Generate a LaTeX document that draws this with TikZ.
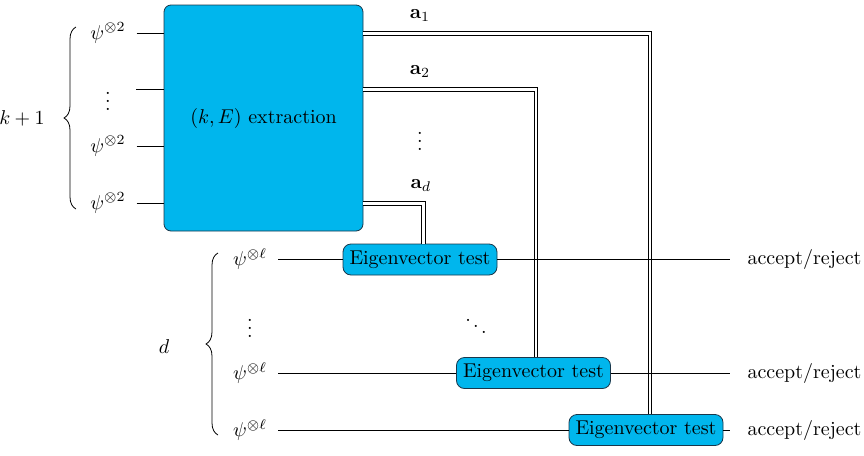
\documentclass[tikz,border=0pt]{standalone}
\usetikzlibrary{decorations.pathreplacing}
\definecolor{boxcyan}{RGB}{0,182,237}
\definecolor{boxedge}{RGB}{25,55,75}
\begin{document}
\begin{tikzpicture}[x=0.5pt,y=-0.5pt,
  wire/.style={line width=0.4pt, shorten <=2pt},
  outwire/.style={line width=0.4pt, shorten >=5pt},
  dbl/.style={double, double distance=1.4pt, line width=0.4pt},
  testbox/.style={draw=boxedge, fill=boxcyan, rounded corners=4pt, minimum width=77pt, minimum height=15.5pt, inner sep=2pt},
  bigbox/.style={draw=boxedge, fill=boxcyan, rounded corners=3.5pt, minimum width=99.5pt, minimum height=113pt},
  dots/.style={inner sep=0pt},
  brc/.style={decorate, decoration={brace, amplitude=6pt}}]
\useasboundingbox (0,0) rectangle (864,456);

% extraction box
\node[bigbox] (ext) at (263.5,118) {$(k,E)$ extraction};

% inputs top
\node (p1) at (108,33) {$\psi^{\otimes 2}$};
\node[dots] (pv) at (108,95) {$\vdots$};
\node (p3) at (108,146) {$\psi^{\otimes 2}$};
\node (p4) at (108,203) {$\psi^{\otimes 2}$};
\coordinate (c2) at (136,89);
\draw[wire] (p1.east) -- (p1.east -| ext.west);
\draw[line width=0.4pt] (c2) -- (c2 -| ext.west);
\draw[wire] (p3.east) -- (p3.east -| ext.west);
\draw[wire] (p4.east) -- (p4.east -| ext.west);
\draw[brc] (76,209) -- (76,27);
\node (kp) at (22,118) {$k+1$};

% output labels
\node (a1) at (420,16) {$\mathbf{a}_1$};
\node (a2) at (420,72) {$\mathbf{a}_2$};
\node[dots] (av) at (420,135) {$\vdots$};
\node (ad) at (421,186) {$\mathbf{a}_d$};

% lower inputs
\node (q1) at (250,259) {$\psi^{\otimes\ell}$};
\node[dots] (qv) at (250,322) {$\vdots$};
\node (q2) at (250,373) {$\psi^{\otimes\ell}$};
\node (q3) at (250,430) {$\psi^{\otimes\ell}$};
\draw[brc] (218,435) -- (218,253);
\node (dl) at (164,347) {$d$};
\node[dots] (dd) at (476,320) {$\ddots$};

% tests
\node[testbox] (t1) at (420,259.5) {Eigenvector test};
\node[testbox] (t2) at (533.5,373) {Eigenvector test};
\node[testbox] (t3) at (646,430) {Eigenvector test};

% results
\node (r1) at (804.5,259) {accept/reject};
\node (r2) at (804.5,373) {accept/reject};
\node (r3) at (804.5,430) {accept/reject};

% classical double wires
\coordinate (v1) at (650,33.5);
\coordinate (v2) at (536,89.5);
\coordinate (vd) at (423.5,203.5);
\draw[dbl] (v1 -| ext.east) -| (v1 |- t3.north);
\draw[dbl] (v2 -| ext.east) -| (v2 |- t2.north);
\draw[dbl] (vd -| ext.east) -| (vd |- t1.north);

% quantum wires
\draw[wire] (q1.east) -- (q1.east -| t1.west);
\draw[wire] (q2.east) -- (q2.east -| t2.west);
\draw[wire] (q3.east) -- (q3.east -| t3.west);
\draw[outwire] (t1.east) -- (t1.east -| r1.west);
\draw[outwire] (t2.east) -- (t2.east -| r2.west);
\draw[outwire] (t3.east) -- (t3.east -| r3.west);
\end{tikzpicture}
\end{document}
